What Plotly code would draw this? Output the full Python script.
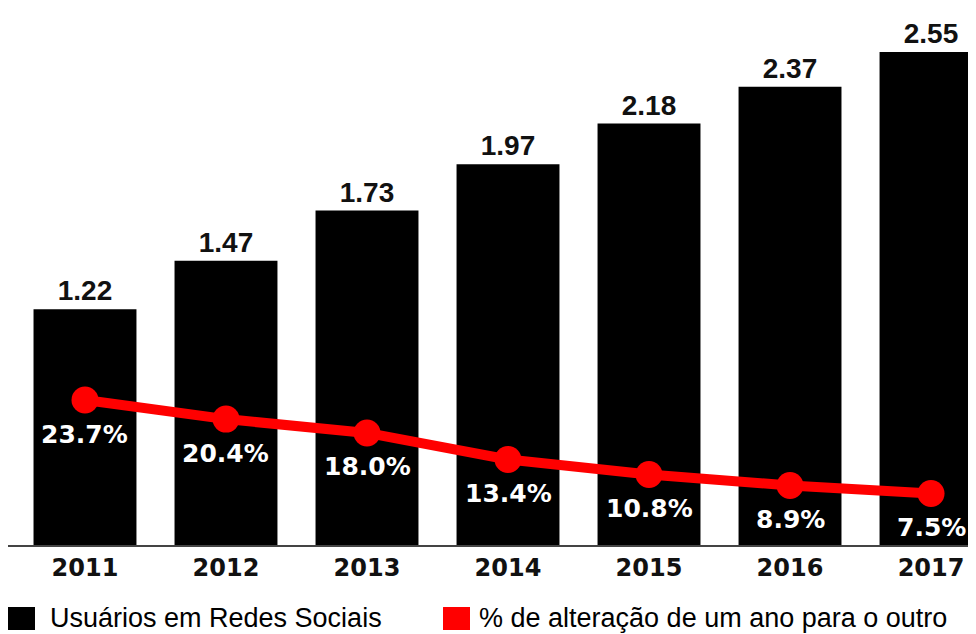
import plotly.graph_objects as go

years = ["2011", "2012", "2013", "2014", "2015", "2016", "2017"]
users = [1.22, 1.47, 1.73, 1.97, 2.18, 2.37, 2.55]
pct_change = [23.7, 20.4, 18.0, 13.4, 10.8, 8.9, 7.5]

bar_name = "Usuários em Redes Sociais"
line_name = "% de alteração de um ano para o outro"
bar_color = "#000000"
line_color = "#ff0000"

fig = go.Figure()
fig.add_trace(go.Bar(
    x=years, y=users, name=bar_name, showlegend=False,
    marker=dict(color=bar_color, line=dict(width=0)),
    texttemplate="<b>%{y:.2f}</b>", textposition="outside",
    textfont=dict(family="Liberation Sans", size=28, color="#111111"),
    cliponaxis=False,
))
fig.add_trace(go.Scatter(
    x=years, y=pct_change, name=line_name, yaxis="y2", showlegend=False,
    mode="lines+markers",
    line=dict(color=line_color, width=10),
    marker=dict(color=line_color, size=27, symbol="circle"),
    cliponaxis=False,
))

annotations = []
for i, p in enumerate(pct_change):
    # category axis: use the category index so "2011" is not read as a number
    annotations.append(dict(
        x=i, y=p, xref="x", yref="y2", yshift=-34,
        text=f"<b>{p:.1f}%</b>", showarrow=False,
        font=dict(family="DejaVu Sans", size=25, color="#ffffff"),
    ))

# manual legend (large square swatches like the reference)
legend_items = [(bar_name, bar_color, 0.0, 0.0413), (line_name, line_color, 0.4494, 0.4845)]
shapes = []
for name, col, sx, tx in legend_items:
    shapes.append(dict(type="rect", xref="paper", yref="paper",
                       x0=sx, x1=sx + 0.0279, y0=-0.1583, y1=-0.1155,
                       fillcolor=col, line=dict(width=0)))
    annotations.append(dict(x=tx, y=-0.136, xref="paper", yref="paper",
                            xanchor="left", yanchor="middle", text=name, showarrow=False,
                            font=dict(family="Liberation Sans", size=27, color="#000000")))

fig.update_layout(
    width=968, height=626,
    margin=dict(l=0, r=0, t=0, b=89),
    paper_bgcolor="white", plot_bgcolor="white",
    bargap=0.27,
    showlegend=False,
    xaxis=dict(
        type="category", range=[-0.546, 6.319],
        showline=True, linecolor="#444444", linewidth=2,
        showgrid=False, ticks="",
        tickfont=dict(family="DejaVu Sans", size=24, color="#111111", weight="bold"),
    ),
    yaxis=dict(range=[0, 2.778], visible=False, showgrid=False),
    yaxis2=dict(range=[-1.42, 91.65], overlaying="y", visible=False, showgrid=False),
    annotations=annotations,
    shapes=shapes,
)

fig.write_html("out.html")
